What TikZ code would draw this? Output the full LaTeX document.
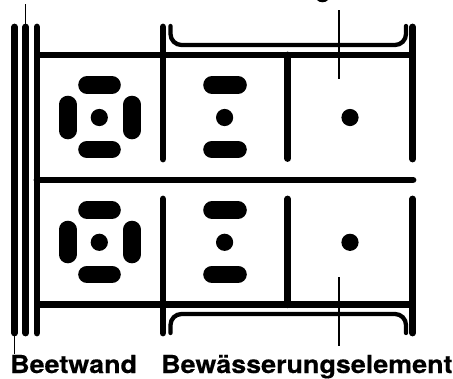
\documentclass[tikz,border=0pt]{standalone}
\usepackage{fontspec}
\setmainfont[FakeStretch=1.085,FakeBold=0.4]{TeX Gyre Heros}
\begin{document}
\begin{tikzpicture}[x=1pt,y=-1pt,
  wall/.style={line width=6.8pt,line cap=round},
  beam/.style={line width=6.8pt,line cap=butt},
  bracket/.style={line width=4.3pt,line cap=round,rounded corners=11pt},
  leader/.style={line width=1.7pt},
  pad/.style={line width=17.6pt,line cap=round},
  hole/.style={fill=black,circle,inner sep=0pt,minimum size=17.2pt},
  label/.style={font=\bfseries\fontsize{24.8}{24.8}\selectfont,inner sep=0pt,anchor=base west}]
\useasboundingbox (0,0) rectangle (453,378);
% walls
\foreach \x in {14.5,25.7,37} \draw[wall] (\x,27) -- (\x,333);
% horizontal beams
\draw[beam] (37,55) -- (413,55);
\draw[wall] (37,180) -- (413,180);
\draw[beam] (37,304.7) -- (413,304.7);
% verticals
\draw[wall] (163,27) -- (163,159);
\draw[wall] (163,199) -- (163,333);
\draw[wall] (287.7,55) -- (287.7,158.5);
\draw[wall] (287.7,199) -- (287.7,304.7);
\draw[wall] (412.7,27) -- (412.7,159);
\draw[wall] (412.7,199) -- (412.7,333);
% brackets
\draw[bracket] (170.5,26) -- (170.5,45) -- (406,45) -- (406,26);
\draw[bracket] (170.5,333) -- (170.5,314) -- (406,314) -- (406,333);
% pads, two rows
\foreach \ya/\yb/\yc/\yd/\ye in {85/117.5/149.5/104.5/130.5, 210.2/242.3/274.3/229.5/254.5}{
  \draw[pad] (87,\ya) -- (112,\ya);
  \draw[pad] (87,\yc) -- (112,\yc);
  \draw[pad] (67.7,\yd) -- (67.7,\ye);
  \draw[pad] (132,\yd) -- (132,\ye);
  \draw[pad] (212,\ya) -- (238,\ya);
  \draw[pad] (212,\yc) -- (238,\yc);
  \node[hole] at (99.3,\yb) {};
  \node[hole] at (224.6,\yb) {};
  \node[hole] at (350,\yb) {};
}
% cropped remnant at the upper edge
\fill (317,0) .. controls (319,3) and (326,3) .. (328,0) -- cycle;
% leaders
\coordinate (wallTop) at (25.5,24);
\coordinate (wallTopEnd) at (25.5,4);
\coordinate (wallBot) at (14.5,335);
\coordinate (wallBotEnd) at (14.5,354);
\coordinate (elTop) at (338.7,10);
\coordinate (elTopEnd) at (338.7,79);
\coordinate (elBot) at (338.7,277);
\coordinate (elBotEnd) at (338.7,346);
\draw[leader] (wallTop) -- (wallTopEnd);
\draw[leader] (wallBot) -- (wallBotEnd);
\draw[leader] (elTop) -- (elTopEnd);
\draw[leader] (elBot) -- (elBotEnd);
% labels
\node[label] (beet) at (10,373) {Beetwand};
\node[label] (bew) at (161,373) {Bewässerungselement};
\end{tikzpicture}
\end{document}
